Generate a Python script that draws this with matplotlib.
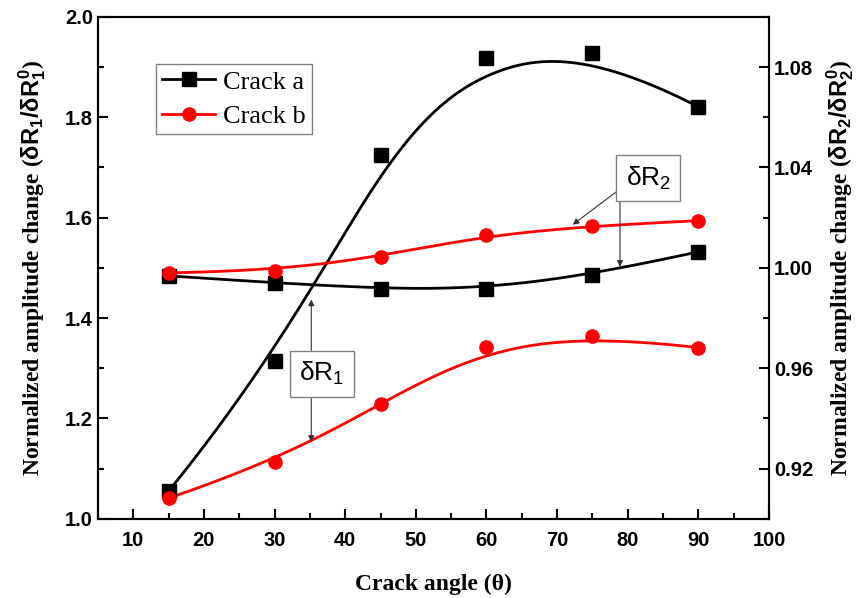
import numpy as np
import matplotlib
matplotlib.use("Agg")
import matplotlib.pyplot as plt
from matplotlib.lines import Line2D
from matplotlib.ticker import MultipleLocator, FormatStrFormatter

plt.rcParams['mathtext.fontset'] = 'custom'
plt.rcParams['mathtext.rm'] = 'Liberation Sans:bold'
plt.rcParams['mathtext.it'] = 'Liberation Sans:bold'
plt.rcParams['mathtext.bf'] = 'Liberation Sans:bold'
plt.rcParams['mathtext.sf'] = 'Liberation Sans'

# crack angle (deg)
angle = [15, 30, 45, 60, 75, 90]
# left axis: dR1 / dR1_0
crack_a_r1 = [1.055, 1.315, 1.725, 1.919, 1.929, 1.821]
crack_b_r1 = [1.041, 1.113, 1.229, 1.343, 1.365, 1.341]
# right axis: dR2 / dR2_0
crack_a_r2 = [0.9968, 0.9940, 0.9916, 0.9916, 0.9972, 1.0064]
crack_b_r2 = [0.9980, 0.9988, 1.0044, 1.0132, 1.0168, 1.0188]

serif = 'Liberation Serif'
sans = 'Liberation Sans'


def bspline(px, py, n=300):
    # clamped cubic B-spline using the data points as control points (Origin style)
    px = np.asarray(px, float)
    py = np.asarray(py, float)
    m = len(px)
    k = 3
    knots = np.concatenate([[0] * k, np.arange(m - k + 1), [m - k] * k]).astype(float)
    t = np.linspace(0, m - k, n)
    t[-1] -= 1e-9

    def basis(i, d, tt):
        if d == 0:
            return ((knots[i] <= tt) & (tt < knots[i + 1])).astype(float)
        out = np.zeros_like(tt)
        den1 = knots[i + d] - knots[i]
        den2 = knots[i + d + 1] - knots[i + 1]
        if den1 > 0:
            out += (tt - knots[i]) / den1 * basis(i, d - 1, tt)
        if den2 > 0:
            out += (knots[i + d + 1] - tt) / den2 * basis(i + 1, d - 1, tt)
        return out

    B = np.array([basis(i, k, t) for i in range(m)])
    return B.T @ px, B.T @ py


fig = plt.figure(figsize=(8.67, 5.98), dpi=100)
ax = fig.add_axes([0.113, 0.1326, 0.774, 0.839])
ax2 = ax.twinx()


def draw(a, x, y, color, marker):
    cx, cy = bspline(x, y)
    a.plot(cx, cy, color=color, lw=2.0, zorder=3)
    a.plot(x, y, ls='none', marker=marker, color=color, ms=9.5, zorder=4)


draw(ax, angle, crack_a_r1, 'black', 's')
draw(ax, angle, crack_b_r1, 'red', 'o')
draw(ax2, angle, crack_a_r2, 'black', 's')
draw(ax2, angle, crack_b_r2, 'red', 'o')

ax.set_xlim(5, 100)
ax.set_ylim(1.0, 2.0)
ax2.set_ylim(0.90, 1.10)

ax.xaxis.set_major_locator(MultipleLocator(10))
ax.xaxis.set_minor_locator(MultipleLocator(5))
ax.yaxis.set_major_locator(MultipleLocator(0.2))
ax.yaxis.set_minor_locator(MultipleLocator(0.1))
ax.yaxis.set_major_formatter(FormatStrFormatter('%.1f'))
ax2.yaxis.set_minor_locator(MultipleLocator(0.02))
ax2.set_yticks([0.92, 0.96, 1.00, 1.04, 1.08])
ax2.yaxis.set_major_formatter(FormatStrFormatter('%.2f'))

for a in (ax, ax2):
    a.tick_params(which='major', direction='in', length=7, width=1.5)
    a.tick_params(which='minor', direction='in', length=4, width=1.5)
    for s in a.spines.values():
        s.set_linewidth(1.5)
ax.tick_params(top=False, right=False, which='both')
for lab in ax.get_xticklabels() + ax.get_yticklabels() + ax2.get_yticklabels():
    lab.set_fontfamily(sans)
    lab.set_fontweight('bold')
    lab.set_fontsize(14.5)
ax.tick_params(axis='x', pad=9)

ax.set_xlabel('Crack angle (θ)', fontfamily=serif, fontweight='bold',
              fontsize=17, labelpad=17)
ax.set_ylabel(r'Normalized amplitude change ($\delta R_1/\delta R_1^0$)',
              fontfamily=serif, fontweight='bold', fontsize=17, labelpad=12)
ax2.set_ylabel(r'Normalized amplitude change ($\delta R_2/\delta R_2^0$)',
               fontfamily=serif, fontweight='bold', fontsize=17, labelpad=8)

handles = [Line2D([], [], color='black', lw=2, marker='s', ms=9.5),
           Line2D([], [], color='red', lw=2, marker='o', ms=9.5)]
leg = ax2.legend(handles, ['Crack a', 'Crack b'], loc='upper left',
                 bbox_to_anchor=(0.086, 0.907), prop={'family': serif, 'size': 19},
                 fancybox=False, edgecolor='gray', framealpha=1, handlelength=2.0,
                 borderpad=0.25, labelspacing=0.4, handletextpad=0.3,
                 borderaxespad=0)
leg.get_frame().set_linewidth(1.0)

box = dict(boxstyle='square,pad=0.35', fc='white', ec='gray', lw=1.0)
arrow = dict(arrowstyle='-|>', color='#333333', lw=0.8, mutation_scale=9,
             shrinkA=0, shrinkB=0)

# dR1 box with arrows up to crack a and down to crack b
ax.text(36.7, 1.289, r'δR$\mathsf{_1}$', fontfamily=sans, fontsize=19,
        ha='center', va='center', bbox=box, zorder=6)
ax.annotate('', xy=(35.2, 1.437), xytext=(35.2, 1.335), arrowprops=arrow, zorder=5)
ax.annotate('', xy=(35.2, 1.153), xytext=(35.2, 1.241), arrowprops=arrow, zorder=5)

# dR2 box with arrows to crack b and crack a
ax2.text(82.9, 1.0358, r'δR$\mathsf{_2}$', fontfamily=sans, fontsize=19,
         ha='center', va='center', bbox=box, zorder=6)
ax2.annotate('', xy=(72.2, 1.0172), xytext=(78.8, 1.0312), arrowprops=arrow, zorder=5)
ax2.annotate('', xy=(78.9, 1.0004), xytext=(78.9, 1.0264), arrowprops=arrow, zorder=5)

fig.savefig('out.png', dpi=100)
